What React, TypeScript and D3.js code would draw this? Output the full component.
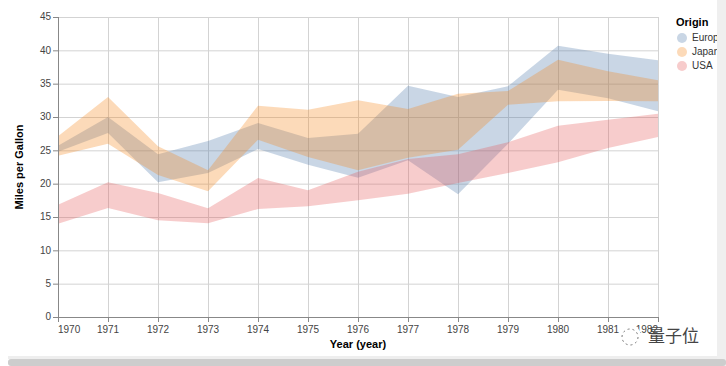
import * as d3 from "d3";

const years = [1970, 1971, 1972, 1973, 1974, 1975, 1976, 1977, 1978, 1979, 1980, 1981, 1982];

const europeLo = [24.8, 27.6, 20.2, 21.6, 25.2, 22.85, 20.9, 23.5, 18.4, 26.0, 34.1, 32.8, 30.85];
const europeHi = [25.7, 30.0, 24.4, 26.4, 29.1, 26.85, 27.5, 34.7, 33.0, 34.6, 40.7, 39.5, 38.5];
const japanLo = [24.2, 26.0, 21.3, 18.85, 26.6, 24.0, 22.0, 23.9, 25.1, 31.85, 32.35, 32.4, 32.35];
const japanHi = [27.1, 33.0, 25.6, 22.0, 31.7, 31.1, 32.5, 31.2, 33.5, 33.9, 38.6, 36.85, 35.5];
const usaLo = [14.0, 16.35, 14.5, 14.05, 16.2, 16.6, 17.5, 18.5, 20.1, 21.6, 23.2, 25.35, 27.0];
const usaHi = [16.85, 20.2, 18.6, 16.3, 20.85, 19.0, 21.8, 23.7, 24.4, 26.2, 28.7, 29.6, 30.5];

const origins = ["Europe", "Japan", "USA"];
const yTicks = [0, 5, 10, 15, 20, 25, 30, 35, 40, 45];

const colors: Record<string, string> = {
  Europe: "#4c78a8",
  Japan: "#f58518",
  USA: "#e45756",
};

const bands: Record<string, { lo: number[]; hi: number[] }> = {
  Europe: { lo: europeLo, hi: europeHi },
  Japan: { lo: japanLo, hi: japanHi },
  USA: { lo: usaLo, hi: usaHi },
};

const width = 726;
const height = 366;
const margin = { top: 17, right: 68, bottom: 49, left: 58 };
const font = "'Liberation Sans', Arial, Helvetica, sans-serif";

export default function App() {
  const x = d3
    .scaleLinear()
    .domain([1970, 1982])
    .range([margin.left, width - margin.right]);
  const y = d3
    .scaleLinear()
    .domain([0, 45])
    .range([height - margin.bottom, margin.top]);

  // error band for one origin
  const bandPath = (name: string) => {
    const b = bands[name];
    return d3
      .area<number>()
      .x((yr) => x(yr))
      .y0((_, i) => y(b.lo[i]))
      .y1((_, i) => y(b.hi[i]))(years) as string;
  };

  const x0 = x.range()[0];
  const x1 = x.range()[1];
  const yb = y(0);
  const yt = y(45);

  return (
    <div style={{ position: "absolute", left: 0, top: 0 }}>
      <svg width={width} height={height} style={{ display: "block", background: "#fff" }}>
        {/* grid */}
        <g>
          {years.map((yr) => (
            <line key={"gx" + yr} x1={x(yr) + 0.5} x2={x(yr) + 0.5} y1={yt} y2={yb} stroke="#d3d3d3" />
          ))}
          {yTicks.map((t) => (
            <line key={"gy" + t} x1={x0} x2={x1} y1={y(t) + 0.5} y2={y(t) + 0.5} stroke="#d3d3d3" />
          ))}
        </g>

        {/* bands */}
        {origins.map((o) => (
          <path key={o} d={bandPath(o)} fill={colors[o]} fillOpacity={0.3} />
        ))}

        {/* y axis */}
        <g fontFamily={font} fontSize={10} fill="#444">
          <line x1={x0 + 0.5} x2={x0 + 0.5} y1={yt} y2={yb} stroke="#888" />
          {yTicks.map((t) => (
            <g key={"yt" + t}>
              <line x1={x0 - 5} x2={x0} y1={y(t) + 0.5} y2={y(t) + 0.5} stroke="#888" />
              <text x={x0 - 7} y={y(t)} dy="0.33em" textAnchor="end">
                {t}
              </text>
            </g>
          ))}
          <text
            transform={`translate(23,${(yt + yb) / 2}) rotate(-90)`}
            textAnchor="middle"
            fontWeight="bold"
            fontSize={11}
            fill="#000"
          >
            Miles per Gallon
          </text>
        </g>

        {/* x axis */}
        <g fontFamily={font} fontSize={10} fill="#444">
          <line x1={x0} x2={x1} y1={yb + 0.5} y2={yb + 0.5} stroke="#888" />
          {years.map((yr, i) => (
            <g key={"xt" + yr}>
              <line x1={x(yr) + 0.5} x2={x(yr) + 0.5} y1={yb} y2={yb + 5} stroke="#888" />
              <text
                x={x(yr)}
                y={yb + 16}
                textAnchor={i === 0 ? "start" : i === years.length - 1 ? "end" : "middle"}
              >
                {yr}
              </text>
            </g>
          ))}
          <text
            x={(x0 + x1) / 2}
            y={yb + 31}
            textAnchor="middle"
            fontWeight="bold"
            fontSize={11}
            fill="#000"
          >
            Year (year)
          </text>
        </g>

        {/* legend */}
        <g fontFamily={font} transform="translate(676,17)">
          <text x={0} y={9} fontWeight="bold" fontSize={11} fill="#000">
            Origin
          </text>
          {origins.map((o, i) => (
            <g key={"lg" + o} transform={`translate(0,${21 + i * 14})`}>
              <circle cx={6} cy={0} r={5} fill={colors[o]} fillOpacity={0.3} />
              <text x={16} y={0} dy="0.33em" fontSize={10} fill="#333">
                {o}
              </text>
            </g>
          ))}
        </g>

        {/* watermark */}
        <g>
          <circle cx={630} cy={336} r={11} fill="#fff" />
          <circle cx={630} cy={337} r={8} fill="none" stroke="#777" strokeWidth={1} strokeDasharray="2,3" />
          <text
            x={648}
            y={342}
            fontFamily="'Noto Sans CJK SC', sans-serif"
            fontSize={17}
            fill="#444"
          >
            量子位
          </text>
        </g>

        {/* page chrome */}
        <rect x={717} y={0} width={9} height={height} fill="#efefef" />
        <rect x={8} y={356} width={709} height={3} fill="#eeeeee" />
        <rect x={8} y={359} width={718} height={7} rx={3} fill="#cdcdcd" />
      </svg>
    </div>
  );
}
